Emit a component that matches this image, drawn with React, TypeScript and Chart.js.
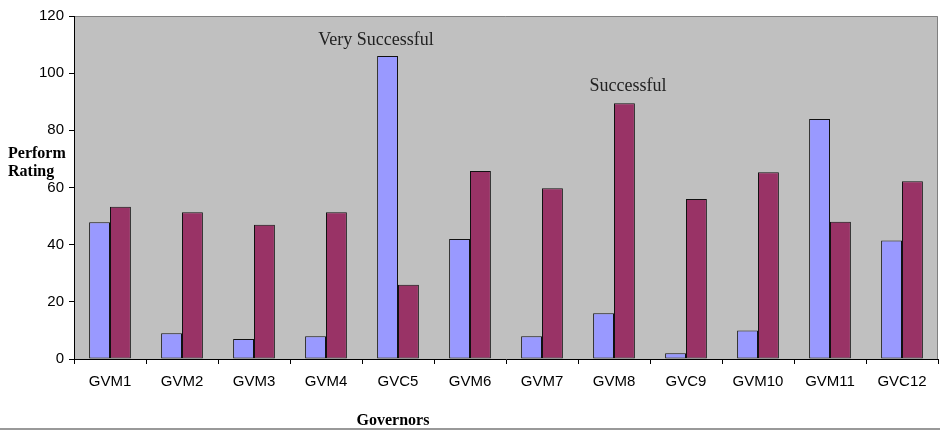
import React, { useEffect, useRef } from "react";
import { Chart, registerables } from "chart.js";
Chart.register(...registerables);

const categories = ["GVM1", "GVM2", "GVM3", "GVM4", "GVC5", "GVM6", "GVM7", "GVM8", "GVC9", "GVM10", "GVM11", "GVC12"];
const seriesBlue = [47.8, 9, 7, 8, 106, 42, 8, 16, 2, 10, 84, 41.5];
const seriesPurple = [53.3, 51.3, 47, 51.3, 26, 65.8, 59.7, 89.5, 56, 65.3, 48, 62.2];
const yMin = 0;
const yMax = 120;
const yStep = 20;
const yTitleLines = ["Perform", "Rating"];
const xTitle = "Governors";
const noteTexts = ["Very Successful", "Successful"];
const noteIndex = [4, 7];
const noteValue = [109.8, 93.7];

const annotationPlugin = {
  id: "customText",
  beforeDraw(chart: any) {
    const { ctx, chartArea } = chart;
    ctx.save();
    ctx.fillStyle = "#C0C0C0";
    ctx.fillRect(chartArea.left, chartArea.top, chartArea.right - chartArea.left, chartArea.bottom - chartArea.top);
    ctx.strokeStyle = "#808080";
    ctx.lineWidth = 1;
    ctx.beginPath();
    ctx.moveTo(chartArea.left, chartArea.top + 0.5);
    ctx.lineTo(chartArea.right - 0.5, chartArea.top + 0.5);
    ctx.lineTo(chartArea.right - 0.5, chartArea.bottom);
    ctx.stroke();
    ctx.restore();
  },
  afterDraw(chart: any) {
    const { ctx } = chart;
    const xs = chart.scales.x;
    const ys = chart.scales.y;
    ctx.save();
    ctx.fillStyle = "#222";
    ctx.font = '18px "Liberation Serif", "DejaVu Serif", serif';
    ctx.textAlign = "center";
    ctx.textBaseline = "alphabetic";
    const offs = [-22, 14];
    noteTexts.forEach((t, i) => {
      ctx.fillText(t, xs.getPixelForValue(noteIndex[i]) + offs[i], ys.getPixelForValue(noteValue[i]));
    });
    ctx.fillStyle = "#000";
    ctx.font = 'bold 16px "Liberation Serif", "DejaVu Serif", serif';
    ctx.textAlign = "left";
    ctx.fillText(yTitleLines[0], 8, 158);
    ctx.fillText(yTitleLines[1], 8, 176);
    ctx.textAlign = "center";
    ctx.fillText(xTitle, 393, 425);
    ctx.strokeStyle = "#999";
    ctx.lineWidth = 2;
    ctx.beginPath();
    ctx.moveTo(0, 429);
    ctx.lineTo(chart.width, 429);
    ctx.stroke();
    ctx.restore();
  },
};

export default function App() {
  const ref = useRef<HTMLCanvasElement>(null);
  useEffect(() => {
    document.body.style.margin = "0";
    const chart = new Chart(ref.current!, {
      type: "bar",
      data: {
        labels: categories,
        datasets: [
          { data: seriesBlue, backgroundColor: "#9999FF", borderColor: "#111", borderWidth: 1, borderSkipped: false },
          { data: seriesPurple, backgroundColor: "#993366", borderColor: "#111", borderWidth: 1, borderSkipped: false },
        ],
      },
      options: {
        animation: false,
        responsive: false,
        devicePixelRatio: 1,
        layout: { padding: { top: 16, right: 2, left: 0, bottom: 0 } },
        datasets: { bar: { categoryPercentage: 0.58, barPercentage: 1 } },
        plugins: { legend: { display: false }, tooltip: { enabled: false } },
        scales: {
          x: {
            offset: true,
            grid: { display: true, drawOnChartArea: false, tickLength: 5, color: "#000", offset: true },
            border: { display: true, color: "#000", width: 1 },
            ticks: { color: "#000", padding: 9, font: { family: '"Liberation Sans", Arial, sans-serif', size: 15 }, maxRotation: 0 },
            afterFit(scale: any) { scale.height = 71; },
          },
          y: {
            min: yMin,
            max: yMax,
            ticks: { stepSize: yStep, color: "#000", padding: 5, font: { family: '"Liberation Sans", Arial, sans-serif', size: 15 } },
            grid: { display: true, drawOnChartArea: false, tickLength: 5, color: "#000" },
            border: { display: true, color: "#000", width: 1 },
            afterFit(scale: any) { scale.width = 74; },
          },
        },
      },
      plugins: [annotationPlugin],
    });
    return () => chart.destroy();
  }, []);
  return <canvas ref={ref} width={940} height={430} style={{ display: "block" }} />;
}
